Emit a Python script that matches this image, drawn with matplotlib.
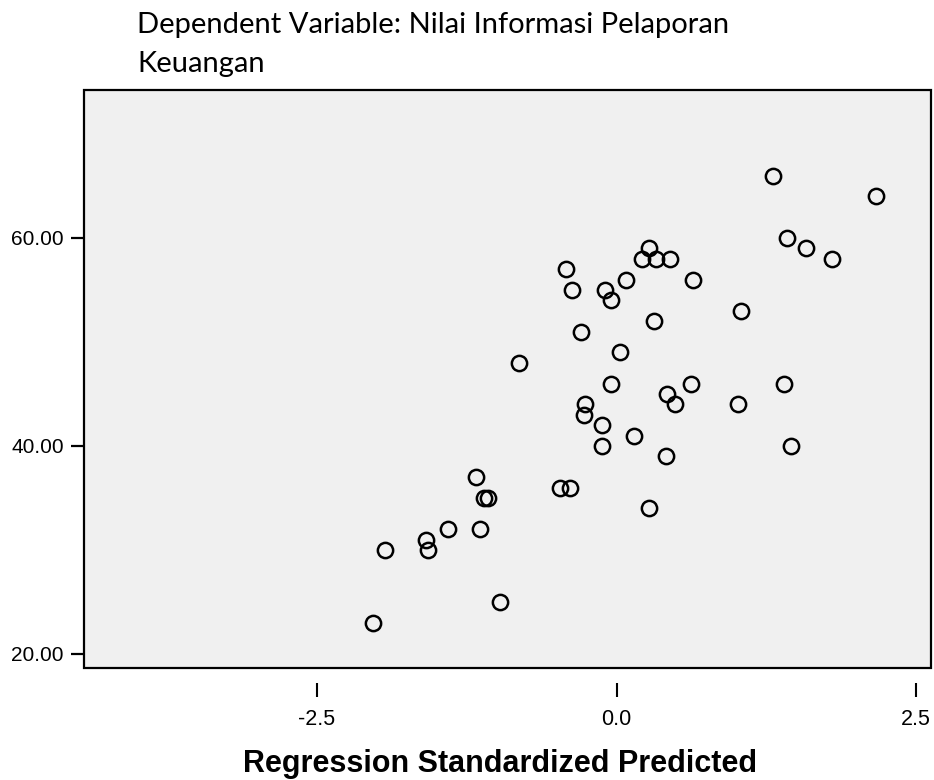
import matplotlib
matplotlib.use("Agg")
import matplotlib.pyplot as plt
from matplotlib.patches import Rectangle

# regression standardized predicted value vs. dependent variable
pred = [1.31, 2.17, 1.42, 1.58, 1.80, 0.27, 0.21, 0.33, 0.445, -0.42,
        0.08, 0.64, -0.375, -0.10, -0.05, 1.035, 0.315, -0.30,
        -0.81, 0.03, -0.05, 0.62, 0.42, 0.49, -0.26, -0.27, -0.125, 0.15,
        -0.125, 0.41, -1.17, -0.47, -0.39, -1.11, -1.07, 0.27, -1.41, -1.14,
        -1.59, -1.93, -1.57, -0.97, -2.03, 1.01, 1.40, 1.46]
nilai = [66, 64, 60, 59, 58, 59, 58, 58, 58, 57,
         56, 56, 55, 55, 54, 53, 52, 51,
         48, 49, 46, 46, 45, 44, 44, 43, 42, 41,
         40, 39, 37, 36, 36, 35, 35, 34, 32, 32,
         31, 30, 30, 25, 23, 44, 46, 40]

xticks = [-2.5, 0.0, 2.5]
xtick_labels = ["-2.5", "0.0", "2.5"]
yticks = [20, 40, 60]
ytick_labels = ["20.00", "40.00", "60.00"]

title_lines = ["Dependent Variable: Nilai Informasi Pelaporan", "Keuangan"]
xlabel = "Regression Standardized Predicted"

W, H = 934, 780
fig = plt.figure(figsize=(W / 100, H / 100), dpi=100)
fig.patch.set_facecolor("white")

ax = fig.add_axes([84 / W, 1 - 668 / H, (931 - 84) / W, (668 - 90) / H])
ax.set_facecolor("#f0f0f0")

ax.plot(pred, nilai, linestyle="none", marker="o", ms=11,
        mfc="none", mec="black", mew=1.8, clip_on=False)

ax.set_xlim(-4.445, 2.625)
ax.set_ylim(18.65, 74.23)

for s in ax.spines.values():
    s.set_visible(False)
ax.spines["bottom"].set_position(("outward", 10.8))

# frame drawn separately so x ticks can sit below it with a gap
ax.add_patch(Rectangle((0, 0), 1, 1, transform=ax.transAxes, fill=False,
                       lw=1.6, ec="black", clip_on=False, zorder=5))

ax.set_xticks(xticks)
ax.set_xticklabels(xtick_labels, fontfamily="Liberation Sans", fontsize=15.5)
ax.set_yticks(yticks)
ax.set_yticklabels(ytick_labels, fontfamily="Liberation Sans", fontsize=15)
ax.tick_params(axis="x", direction="out", length=10, width=1.5, pad=9, color="black")
ax.tick_params(axis="y", direction="out", length=9.4, width=1.6, pad=5, color="black")
ax.tick_params(top=False, right=False)

for line, base in zip(title_lines, [33, 72]):
    fig.text(137 / W, 1 - base / H, line, ha="left", va="baseline",
             fontfamily="Lato", fontsize=21, color="black")
fig.text(500 / W, 1 - 772 / H, xlabel, ha="center", va="baseline",
         fontfamily="Liberation Sans", fontweight="bold", fontsize=22)

fig.savefig("out.png", dpi=100)
